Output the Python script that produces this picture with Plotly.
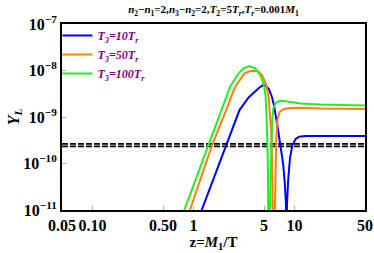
import plotly.graph_objects as go

# ---- data ----
z_T10 = [0.81, 1.21, 1.62, 2.14, 2.86, 3.52, 4.42, 4.99, 5.56, 5.95, 6.27, 6.75, 7.31,
         7.74, 8.06, 8.25, 8.33,
         8.44, 8.68, 9.04, 9.55, 10.3, 11.1, 12.9, 20.0, 50.0]
Y_T10 = [1e-12, 1.0e-11, 5.1e-11, 2.72e-10, 1.41e-9, 2.63e-9, 4.14e-9, 5.0e-9, 4.1e-9,
         2.83e-9, 1.81e-9, 7.07e-10, 2.5e-10,
         9.75e-11, 3.45e-11, 1.28e-11, 1e-13,
         1.28e-11, 4.42e-11, 1.31e-10, 2.5e-10, 3.37e-10, 3.77e-10, 3.9e-10, 3.9e-10, 3.9e-10]

z_T50 = [0.643, 0.927, 1.555, 2.11, 2.59, 3.21, 3.60, 4.03, 4.42, 4.84, 5.27, 5.56, 5.72,
         5.88, 6.02, 6.13, 6.20,
         6.41, 6.52, 6.61, 6.79, 7.14, 7.83, 9.19, 11.55, 18.24, 50.0]
Y_T50 = [1e-12, 1.0e-11, 2.72e-10, 1.41e-9, 4.48e-9, 8.7e-9, 9.6e-9, 9.9e-9, 9.5e-9,
         7.62e-9, 4.88e-9, 2.69e-9, 1.42e-9,
         5.25e-10, 1.52e-10, 2.7e-11, 1e-13,
         1.0e-11, 5.66e-11, 3.2e-10, 8.6e-10, 1.28e-9, 1.49e-9, 1.56e-9, 1.58e-9, 1.52e-9, 1.49e-9]

z_T100 = [0.549, 0.814, 1.43, 1.91, 2.31, 2.80, 3.17, 3.57, 4.13, 4.63, 4.99, 5.19, 5.31,
          5.40, 5.48, 5.52,
          5.72, 5.81, 5.90, 6.02, 6.20, 6.52, 7.31, 9.19, 11.55, 18.24, 50.0]
Y_T100 = [1e-12, 1.0e-11, 2.72e-10, 1.41e-9, 4.48e-9, 8.7e-9, 1.13e-8, 1.25e-8, 1.10e-8,
          7.62e-9, 4.88e-9, 2.83e-9, 1.10e-9,
          3.2e-10, 5.66e-11, 1e-13,
          1.0e-11, 7.2e-11, 3.2e-10, 8.6e-10, 1.56e-9, 2.0e-9, 2.26e-9, 2.10e-9, 1.95e-9, 1.86e-9, 1.77e-9]

obs_levels = [2.64e-10, 2.33e-10]
z_span = [0.05, 50]

series_names = ["T<sub>3</sub>=10T<sub>r</sub>", "T<sub>3</sub>=50T<sub>r</sub>", "T<sub>3</sub>=100T<sub>r</sub>"]
series_colors = ["#0000ff", "#ff7f0e", "#22ee22"]

x_tickvals = [0.05, 0.1, 0.5, 1, 5, 10, 50]
x_ticktext = ["0.05", "0.10", "0.50", "1", "5", "10", "50"]
y_tickvals = [1e-11, 1e-10, 1e-9, 1e-8, 1e-7]
y_ticktext = ["10<sup>\u221211</sup>", "10<sup>\u221210</sup>", "10<sup>\u22129</sup>",
              "10<sup>\u22128</sup>", "10<sup>\u22127</sup>"]

SERIF = "Liberation Serif"

fig = go.Figure()
for lvl in obs_levels:
    fig.add_trace(go.Scatter(x=z_span, y=[lvl, lvl], mode="lines",
                             line=dict(color="black", width=1.6, dash="6px,2px"),
                             showlegend=False, hoverinfo="skip"))

for zs, ys, name, col in zip([z_T10, z_T50, z_T100], [Y_T10, Y_T50, Y_T100], series_names, series_colors):
    fig.add_trace(go.Scatter(x=zs, y=ys, mode="lines", name="<b><i>" + name + "</i></b>",
                             line=dict(color=col, width=2)))

fig.update_layout(
    width=374, height=253,
    margin=dict(l=62, r=9, t=24, b=43),
    paper_bgcolor="white", plot_bgcolor="white",
    showlegend=True,
    legend=dict(x=-0.015, y=1.016, xanchor="left", yanchor="top",
                bgcolor="rgba(0,0,0,0)", borderwidth=0,
                font=dict(family=SERIF, size=12, color="#800080"),
                itemwidth=30, tracegroupgap=0),
    title=dict(text="<b><i>n</i><sub>2</sub>\u2212<i>n</i><sub>1</sub>=2,<i>n</i><sub>3</sub>\u2212<i>n</i><sub>2</sub>=2,<i>T</i><sub>2</sub>=5<i>T<sub>r</sub></i>,<i>T<sub>r</sub></i>=0.001<i>M</i><sub>1</sub></b>",
               x=0.5, xref="paper", xanchor="center", y=0.962, yref="container", yanchor="middle",
               pad=dict(t=0, b=0),
               font=dict(family=SERIF, size=11, color="black")),
    font=dict(family=SERIF, color="black"),
)

fig.update_xaxes(type="log", range=[-1.30103, 1.69897], automargin=False,
                 tickvals=x_tickvals, ticktext=x_ticktext, tickangle=0,
                 tickfont=dict(family=SERIF, size=16, color="black", weight="bold"),
                 ticks="inside", ticklen=4, tickcolor="#aaaaaa",
                 showline=True, linecolor="black", linewidth=2, mirror=True,
                 showgrid=False, zeroline=False,
                 title=dict(text="<b>z=<i>M</i><sub>1</sub>/T</b>",
                            font=dict(family=SERIF, size=15, color="black"), standoff=2))
fig.update_yaxes(type="log", range=[-11, -7], automargin=False,
                 tickvals=y_tickvals, ticktext=y_ticktext,
                 tickfont=dict(family=SERIF, size=16, color="black", weight="bold"),
                 ticks="inside", ticklen=4, tickcolor="#aaaaaa",
                 showline=True, linecolor="black", linewidth=2, mirror=True,
                 showgrid=False, zeroline=False,
                 title=dict(text="<b><i>Y<sub>L</sub></i></b>",
                            font=dict(family=SERIF, size=16, color="black"), standoff=0))

fig.write_html("out.html", config={"displayModeBar": False},
               post_script="document.body.style.margin='0';document.body.style.overflow='hidden';")
